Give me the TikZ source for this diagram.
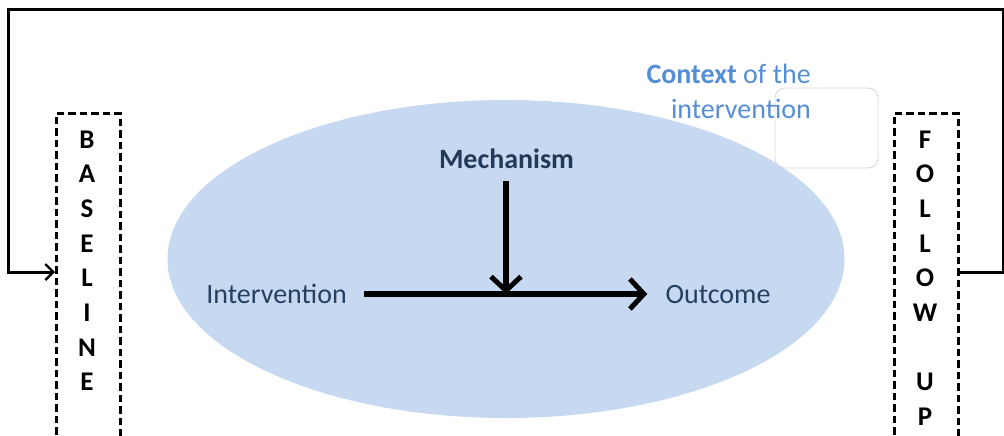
\documentclass[tikz,border=0pt]{standalone}
\usepackage{fontspec}
\setmainfont{Carlito}
\usetikzlibrary{arrows.meta,shapes.geometric}
\definecolor{ellfill}{RGB}{198,217,241}
\definecolor{ctxblue}{RGB}{85,142,213}
\definecolor{darktxt}{RGB}{38,64,97}
\definecolor{ghost}{RGB}{215,215,215}
\tikzset{
  phasebox/.style={draw=black, line width=2.8pt, dash pattern=on 7.5pt off 4pt},
  letter/.style={font=\fontsize{27}{30}\selectfont\bfseries, inner sep=0pt, anchor=base},
  flow/.style={line width=3pt},
  causal/.style={line width=5.5pt, -{Straight Barb[length=14pt,width=30pt,line width=5pt]}},
  inner/.style={text=darktxt, font=\fontsize{28}{34}\selectfont, inner sep=0pt, anchor=base}
}
\begin{document}
\begin{tikzpicture}[x=1pt,y=-1pt]
\useasboundingbox (0,0) rectangle (1004,436);
\clip (0,0) rectangle (1004,436);
% ellipse
\node[ellipse, fill=ellfill, minimum width=677pt, minimum height=318pt, inner sep=0pt] (ell) at (506,259) {};
% ghost rounded rectangle
\node[draw=ghost, line width=0.8pt, rounded corners=10pt, minimum width=103pt, minimum height=80pt, inner sep=0pt] (ghostbox) at (826.5,128) {};
% context text
\node[text=ctxblue, font=\fontsize{28}{34}\selectfont, anchor=base east, inner sep=0pt] (ctx1) at (811,83) {\textbf{Context} of the};
\node[text=ctxblue, font=\fontsize{28}{34}\selectfont, anchor=base east, inner sep=0pt] (ctx2) at (811,118) {intervention};
% boxes
\node[phasebox, minimum width=64pt, minimum height=340pt, anchor=north west, inner sep=0pt] (base) at (55,112) {};
\node[phasebox, minimum width=64pt, minimum height=340pt, anchor=north west, inner sep=0pt] (fup) at (893,112) {};
% letters
\foreach \ch [count=\i from 0] in {B,A,S,E,L,I,N,E}
  \node[letter] (b\i) at (87,148+34.7*\i) {\ch};
\foreach \ch/\k in {F/0,O/1,L/2,L/3,O/4,W/5,U/7,P/8}
  \node[letter] (f\k) at (925,148+34.7*\k) {\ch};
% inner nodes
\node[inner, font=\fontsize{28}{34}\selectfont\bfseries, text=darktxt!90!black] (mech) at (506.5,168) {Mechanism};
\node[inner] (intv) at (276.5,303) {Intervention};
\node[inner] (outc) at (718,303) {Outcome};
\coordinate (mid) at (506,294);
\coordinate (tr) at (1003,10);
\coordinate (tl) at (8,10);
\draw[causal] (intv.east |- mid) ++(17pt,0) -- ([xshift=-18pt]outc.west |- mid);
\draw[causal] (506,181) -- (mid);
% feedback loop
\draw[flow, -{Straight Barb[length=8pt,width=16pt,line width=2.4pt]}] (fup.east |- 0,272) -| (tr) -| (tl) |- (base.west |- 0,272);
\end{tikzpicture}
\end{document}
